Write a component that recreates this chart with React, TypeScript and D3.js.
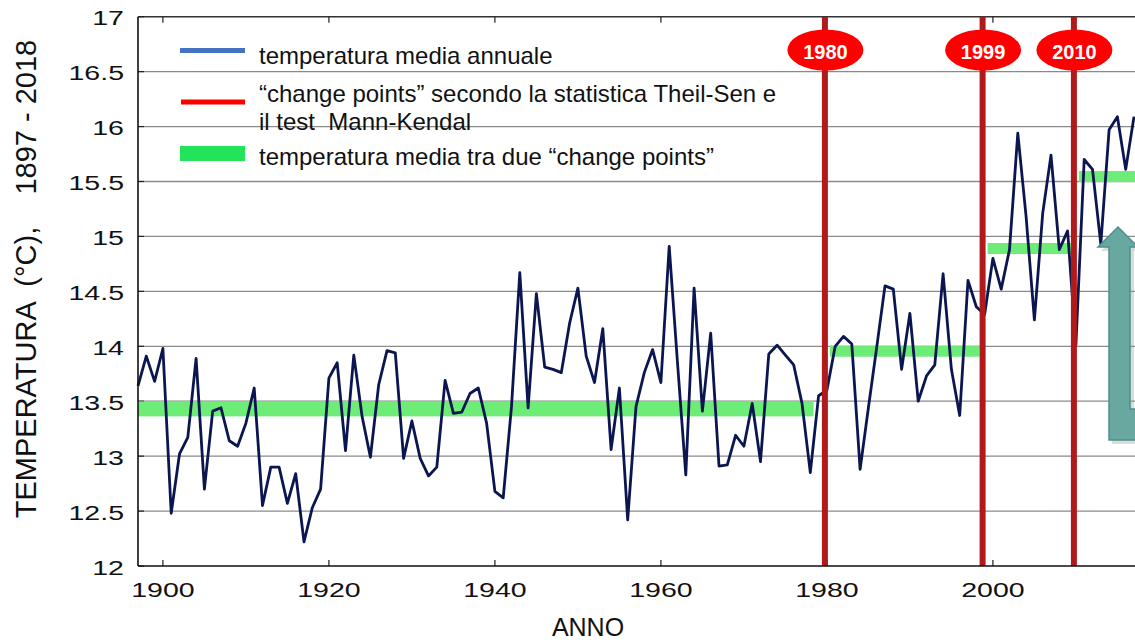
import React from 'react';
import * as d3 from 'd3';

// ---- data ----
const firstYear = 1897;
const temps = [
  13.64, 13.91, 13.68, 13.98, 12.48, 13.02, 13.17, 13.89, 12.70, 13.41, // 1897-1906
  13.44, 13.14, 13.09, 13.30, 13.62, 12.55, 12.90, 12.90, 12.57, 12.84, // 1907-1916
  12.22, 12.53, 12.70, 13.71, 13.85, 13.05, 13.92, 13.36, 12.99, 13.65, // 1917-1926
  13.96, 13.94, 12.98, 13.32, 12.98, 12.82, 12.90, 13.69, 13.39, 13.40, // 1927-1936
  13.57, 13.62, 13.30, 12.68, 12.62, 13.45, 14.67, 13.44, 14.48, 13.81, // 1937-1946
  13.79, 13.76, 14.21, 14.53, 13.91, 13.67, 14.16, 13.06, 13.62, 12.42, // 1947-1956
  13.45, 13.76, 13.97, 13.67, 14.91, 13.85, 12.83, 14.53, 13.41, 14.12, // 1957-1966
  12.91, 12.92, 13.19, 13.09, 13.48, 12.95, 13.93, 14.01, 13.92, 13.83, // 1967-1976
  13.48, 12.85, 13.55, 13.60, 14.00, 14.09, 14.02, 12.88, 13.44, 13.99, // 1977-1986
  14.55, 14.52, 13.79, 14.30, 13.50, 13.73, 13.83, 14.66, 13.79, 13.37, // 1987-1996
  14.60, 14.36, 14.29, 14.80, 14.52, 14.88, 15.94, 15.18, 14.24, 15.21, // 1997-2006
  15.74, 14.88, 15.05, 14.01, 15.70, 15.61, 14.93, 15.97, 16.09, 15.61, // 2007-2016
  16.09, // 2017
];
const changePoints = [1980, 1999, 2010];
const segStart = [1897, 1980, 1999, 2010];
const segEnd = [1979, 1999, 2010, 2018];
const segMean = [13.43, 13.955, 14.89, 15.545];
const yTicks = [12, 12.5, 13, 13.5, 14, 14.5, 15, 15.5, 16, 16.5, 17];
const xTicks = [1900, 1920, 1940, 1960, 1980, 2000];
const legendLabels = [
  'temperatura media annuale',
  '\u201Cchange points\u201D secondo la statistica Theil-Sen e',
  'il test  Mann-Kendal',
  'temperatura media tra due \u201Cchange points\u201D',
];
const yTitle = 'TEMPERATURA  (\u00B0C),    1897 - 2018';
const xTitle = 'ANNO';

const W = 1135;
const H = 644;
const FONT = '"Liberation Sans", Arial, Helvetica, sans-serif';
const SX = 1.36; // horizontal stretch of the original chart's tick labels

export default function App() {
  const x = d3.scaleLinear().domain([1897, 2017]).range([138, 1134]);
  const y = d3.scaleLinear().domain([12, 17]).range([566, 16.7]);

  const line = d3
    .line<number>()
    .x((_, i) => x(firstYear + i))
    .y((d) => y(d));

  const plotLeft = x(1897);
  const top = y(17);
  const bottom = y(12);

  return (
    <svg
      width={W}
      height={H}
      style={{ position: 'absolute', left: 0, top: 0, background: '#fff', display: 'block' }}
      fontFamily={FONT}
    >
      <rect x={0} y={0} width={W} height={H} fill="#fff" />

      {/* gridlines */}
      {yTicks.slice(1, -1).map((t) => (
        <line key={t} x1={plotLeft} x2={W} y1={y(t)} y2={y(t)} stroke="#8a8a8a" strokeWidth={1.3} />
      ))}
      {/* top border */}
      <line x1={plotLeft} x2={W} y1={top} y2={top} stroke="#333" strokeWidth={1.4} />
      {/* x ticks (bottom & top) */}
      {xTicks.map((t) => (
        <g key={t}>
          <line x1={x(t)} x2={x(t)} y1={bottom} y2={bottom - 6} stroke="#222" strokeWidth={1.2} />
          <line x1={x(t)} x2={x(t)} y1={top} y2={top + 6} stroke="#222" strokeWidth={1.2} />
        </g>
      ))}
      {/* y ticks */}
      {yTicks.map((t) => (
        <line key={t} x1={plotLeft} x2={plotLeft + 6} y1={y(t)} y2={y(t)} stroke="#222" strokeWidth={1.2} />
      ))}

      {/* mean bands */}
      {segMean.map((m, i) => {
        const x0 = x(segStart[i]) + (i === 0 ? 0 : 3);
        const x1 = Math.min(x(segEnd[i]) - (i === segMean.length - 1 ? 0 : 5), W + 20);
        const h = i === 0 ? 15 : 11;
        return <rect key={i} x={x0} y={y(m) - h / 2} width={x1 - x0} height={h} fill="#6ded78" />;
      })}

      {/* annual temperature line */}
      <path d={line(temps) || ''} fill="none" stroke="#0b1650" strokeWidth={2.8} strokeLinejoin="round" />

      {/* change point lines */}
      {changePoints.map((c) => (
        <line key={c} x1={x(c) - 2} x2={x(c) - 2} y1={top} y2={bottom} stroke="#b11a1a" strokeWidth={6} />
      ))}

      {/* axes */}
      <line x1={plotLeft} x2={plotLeft} y1={top} y2={bottom} stroke="#111" strokeWidth={1.6} />
      <line x1={plotLeft} x2={W} y1={bottom} y2={bottom} stroke="#111" strokeWidth={1.6} />

      {/* y tick labels */}
      {yTicks.map((t) => (
        <text
          key={t}
          transform={`translate(124,${y(t) + 8.5}) scale(${SX},1)`}
          textAnchor="end"
          fontSize={21}
          fill="#111"
        >
          {String(t)}
        </text>
      ))}
      {/* x tick labels */}
      {xTicks.map((t) => (
        <text
          key={t}
          transform={`translate(${x(t)},596.5) scale(${SX},1)`}
          textAnchor="middle"
          fontSize={21}
          fill="#111"
        >
          {String(t)}
        </text>
      ))}

      {/* axis titles */}
      <text x={588} y={636} textAnchor="middle" fontSize={25} fill="#111">
        {xTitle}
      </text>
      <text
        transform={`translate(36,279) rotate(-90)`}
        textAnchor="middle"
        fontSize={29}
        fill="#111"
        style={{ whiteSpace: 'pre' }}
      >
        {yTitle}
      </text>

      {/* change point badges */}
      {changePoints.map((c) => (
        <g key={c}>
          <ellipse cx={x(c) - 1.5} cy={50} rx={38} ry={20.5} fill="#ff0000" />
          <text x={x(c) - 1.5} y={59} textAnchor="middle" fontSize={20} fontWeight="bold" fill="#fff">
            {String(c)}
          </text>
        </g>
      ))}

      {/* legend */}
      <rect x={180} y={48} width={65} height={5} fill="#4472c4" />
      <rect x={181} y={99.5} width={64} height={5} fill="#ff0000" />
      <rect x={180} y={146} width={65} height={15} fill="#22e35a" />
      {legendLabels.map((l, i) => (
        <text
          key={i}
          x={259}
          y={[63.5, 102, 130, 165][i]}
          fontSize={24}
          fill="#111"
          style={{ whiteSpace: 'pre' }}
        >
          {l}
        </text>
      ))}

      {/* arrow (cut at the right edge) */}
      <polygon
        points="1101,251 1121,231 1141,251 1134,251 1134,413 1144,413 1144,444 1112,444 1112,251"
        fill="#999"
        opacity={0.35}
      />
      <polygon
        points="1098,247 1118,227 1138,247 1130,247 1130,409 1140,409 1140,440 1109,440 1109,247"
        fill="#69a8a0"
        stroke="#4e8f86"
        strokeWidth={1.5}
        strokeLinejoin="miter"
      />
    </svg>
  );
}
